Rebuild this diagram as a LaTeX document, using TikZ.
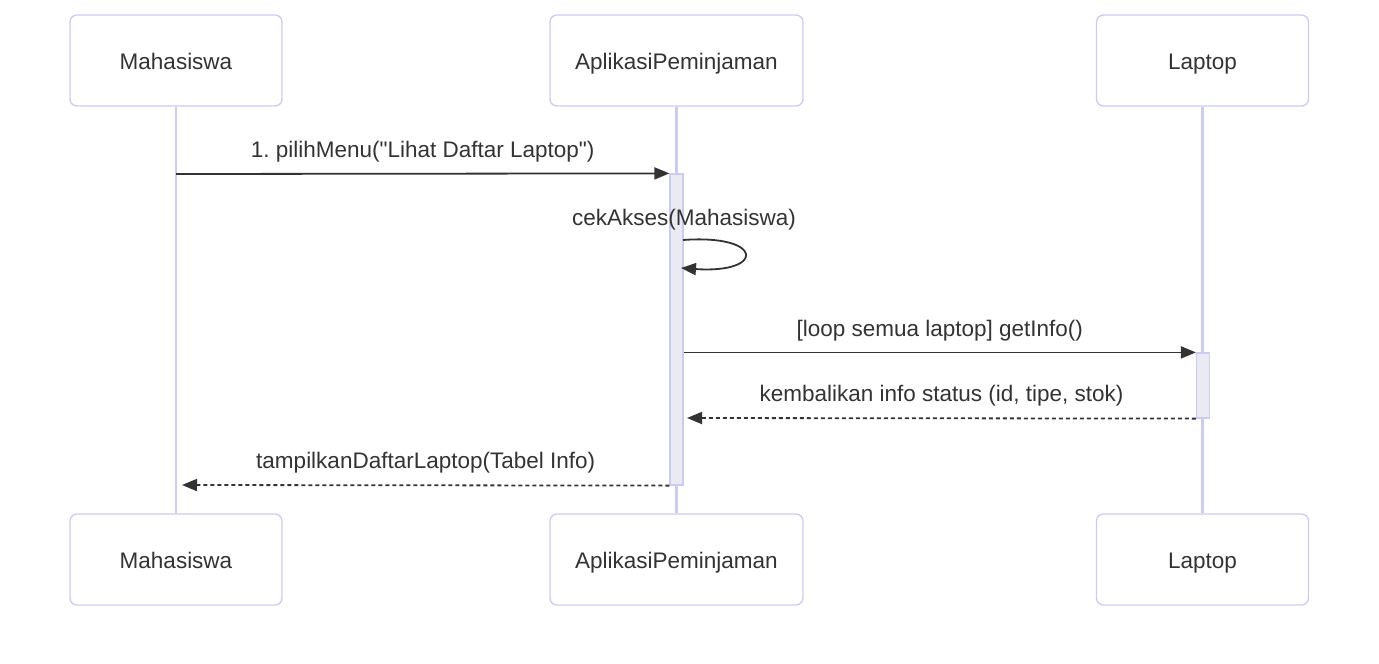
\documentclass[tikz,border=0pt]{standalone}
\usepackage{fontspec}
\setmainfont{Liberation Sans}[Ligatures=TeXOff]
\usetikzlibrary{arrows.meta}
\definecolor{actline}{HTML}{CCCCF0}
\definecolor{actfill}{HTML}{EAEAF4}
\definecolor{msgcol}{HTML}{333333}
\frenchspacing

\begin{document}
\begin{tikzpicture}
[x=1pt,y=-1pt,%
  actor/.style={shape=rectangle,draw=actline,line width=1.3pt,fill=white,rounded corners=7pt,
    minimum width=212pt,minimum height=91pt,text=msgcol,text height=20pt,text depth=3pt},%
  lifeline/.style={draw=actline,line width=2.2pt},%
  activation/.style={shape=rectangle,draw=actline,line width=1.2pt,fill=actfill,minimum width=13pt,inner sep=0pt},%
  msg/.style={draw=msgcol,line width=1.8pt,-{Triangle[length=15pt,width=12pt]}},%
  reply/.style={msg,dash pattern=on 4pt off 3pt},%
  label/.style={text=msgcol,inner sep=0pt,text height=16pt,text depth=5pt}]
\fontsize{22.5}{27}\selectfont
\useasboundingbox (0,0) rectangle (1379,664);
% actors, top and bottom
\node[actor] (mhsT) at (176,60.5) {Mahasiswa};
\node[actor,minimum width=253pt] (appT) at (676.5,60.5) {AplikasiPeminjaman};
\node[actor] (lapT) at (1202.5,60.5) {Laptop};
\node[actor] (mhsB) at (176,559.5) {Mahasiswa};
\node[actor,minimum width=253pt] (appB) at (676.5,559.5) {AplikasiPeminjaman};
\node[actor] (lapB) at (1202.5,559.5) {Laptop};
% lifelines
\draw[lifeline] (mhsT) -- (mhsB);
\draw[lifeline] (appT) -- (appB);
\draw[lifeline] (lapT) -- (lapB);
% activations
\node[activation,minimum height=311pt] (appAct) at (676.5,329.5) {};
\node[activation,minimum height=65pt] (lapAct) at (1203,385.5) {};
% messages
\coordinate (m1s) at (176,174);
\coordinate (m5e) at (182,485);
\coordinate (loopS) at (683,240);
\coordinate (loopE) at (681,268);
\coordinate (m4e) at (687,418);
\draw[msg] (m1s) -- (appAct.north west)
  node[label,midway,above=10.5pt] {1. pilihMenu("Lihat Daftar Laptop")};
\node[label] (selfLbl) at (684,220) {cekAkses(Mahasiswa)};
\draw[msg] (loopS) .. controls (765,234) and (765,274) .. (loopE);
\draw[msg] (appAct.east |- lapAct.north) -- (lapAct.north west)
  node[label,midway,above=10.5pt] {[loop semua laptop] getInfo()};
\draw[reply] (lapAct.south west) -- (m4e)
  node[label,midway,above=10.5pt] {kembalikan info status (id, tipe, stok)};
\draw[reply] (appAct.south west) -- (m5e)
  node[label,midway,above=10.5pt] {tampilkanDaftarLaptop(Tabel Info)};
\end{tikzpicture}
\end{document}
